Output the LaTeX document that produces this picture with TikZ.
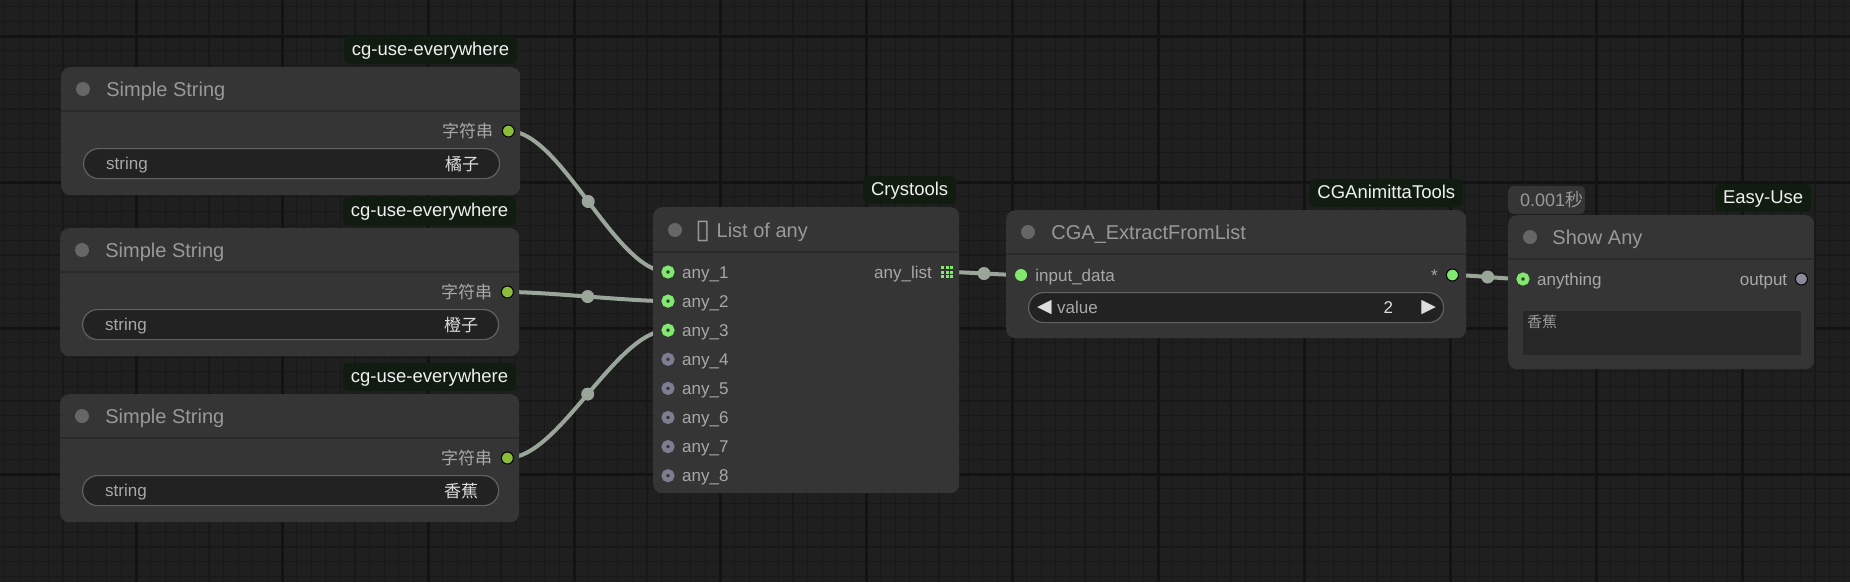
\documentclass[tikz,border=0pt]{standalone}
\usepackage{fontspec}
\setmainfont{Liberation Sans}
\newfontfamily\cjk{Noto Sans CJK SC}
\newfontfamily\dvsans{DejaVu Sans}
\usetikzlibrary{positioning}

\definecolor{canvasbg}{HTML}{1F1F1F}
\definecolor{minorc}{HTML}{181818}
\definecolor{majorc}{HTML}{131313}
\definecolor{nodebg}{HTML}{353535}
\definecolor{sepc}{HTML}{2A2A2A}
\definecolor{dotgrey}{HTML}{666666}
\definecolor{titlec}{HTML}{999999}
\definecolor{slotc}{HTML}{A8A8A8}
\definecolor{valuec}{HTML}{DDDDDD}
\definecolor{badgebg}{HTML}{111C11}
\definecolor{badgetext}{HTML}{F0F0F0}
\definecolor{widgetbg}{HTML}{222222}
\definecolor{widgetline}{HTML}{616161}
\definecolor{strgreen}{HTML}{8CBD3A}
\definecolor{anygreen}{HTML}{80E96E}
\definecolor{freegrey}{HTML}{7D7D91}
\definecolor{outgrey}{HTML}{8A8A9C}
\definecolor{linkc}{HTML}{9AA69A}
\definecolor{areabg}{HTML}{272727}

\pgfdeclarelayer{grid}
\pgfdeclarelayer{links}
\pgfsetlayers{grid,links,main}

\tikzstyle{minorline} = [line width=1.2pt, draw=minorc]
\tikzstyle{majorline} = [line width=3pt, draw=majorc]
\tikzstyle{nodebox} = [rectangle, rounded corners=9pt, fill=nodebg, inner sep=0pt, anchor=north west]
\tikzstyle{sepline} = [line width=1.5pt, draw=sepc]
\tikzstyle{titledot} = [circle, fill=dotgrey, minimum size=14pt, inner sep=0pt]
\tikzstyle{titletext} = [font=\fontsize{20}{24}\selectfont, text=titlec, inner sep=0pt, text height=14.3pt, text depth=0pt]
\tikzstyle{badge} = [rectangle, rounded corners=5pt, fill=badgebg, text=badgetext, font=\fontsize{18.5}{22}\selectfont, inner xsep=8pt, inner ysep=0pt, minimum height=28pt, text height=13.5pt, text depth=1.5pt]
\tikzstyle{slotlabel} = [font=\fontsize{17}{20}\selectfont, text=slotc, inner sep=0pt, text height=12.5pt, text depth=0.5pt]
\tikzstyle{slotcjk} = [font=\cjk\fontsize{17}{20}\selectfont, text=slotc, inner sep=0pt]
\tikzstyle{widget} = [rectangle, rounded corners=15pt, fill=widgetbg, draw=widgetline, line width=1.2pt, minimum height=30pt, inner sep=0pt, anchor=north west]
\tikzstyle{widgetlabel} = [font=\fontsize{17}{20}\selectfont, text=slotc, inner sep=0pt, text height=12pt, text depth=0pt]
\tikzstyle{widgetvalue} = [font=\cjk\fontsize{17}{20}\selectfont, text=valuec, inner sep=0pt]
\tikzstyle{arrowtxt} = [font=\dvsans\fontsize{19}{22}\selectfont, text=valuec, inner sep=0pt]
\tikzstyle{strdot} = [circle, fill=strgreen, draw=black, line width=1pt, minimum size=12pt, inner sep=0pt]
\tikzstyle{ringon} = [circle, fill=nodebg, draw=anygreen, line width=4.5pt, minimum size=8.5pt, inner sep=0pt]
\tikzstyle{ringoff} = [ringon, draw=freegrey]
\tikzstyle{soliddot} = [circle, fill=anygreen, minimum size=12pt, inner sep=0pt]
\tikzstyle{outdot} = [soliddot, draw=black, line width=1pt]
\tikzstyle{greydot} = [outdot, fill=outgrey]
\tikzstyle{link} = [line width=4pt, draw=linkc, line cap=round]
\tikzstyle{middot} = [circle, fill=linkc, minimum size=13pt, inner sep=0pt]

\begin{document}
\begin{tikzpicture}[x=1pt, y=-1pt]
\useasboundingbox (0,0) rectangle (1850,582);
\begin{pgfonlayer}{grid}
  \fill[canvasbg] (0,0) rectangle (1850,582);
  \foreach \i in {0,...,126} \draw[minorline] ({4.6+14.6*\i},0) -- ++(0,582);
  \foreach \j in {0,...,39} \draw[minorline] (0,{6.8+14.6*\j}) -- ++(1850,0);
  \foreach \i in {-1,...,12} \draw[majorline] ({136+146*\i},0) -- ++(0,582);
  \foreach \j in {0,...,3} \draw[majorline] (0,{36+146*\j}) -- ++(1850,0);
\end{pgfonlayer}

\foreach \nm/\x/\y/\val in {s1/61/67/橘子, s2/60/228/橙子, s3/60/394/香蕉} {
  \node (\nm) [nodebox, minimum width=459pt, minimum height=128pt] at (\x,\y) {};
  \draw[sepline] ([yshift=-44pt]\nm.north west) -- ([yshift=-44pt]\nm.north east);
  \node (\nm-dot) [titledot] at ([xshift=22pt,yshift=-22pt]\nm.north west) {};
  \node (\nm-title) [titletext, right=16pt of \nm-dot] {Simple String};
  \node (\nm-badge) [badge, anchor=south east] at ([xshift=-3pt,yshift=3pt]\nm.north east) {cg-use-everywhere};
  \node (\nm-out) [strdot] at ([xshift=-12pt,yshift=-64pt]\nm.north east) {};
  \node (\nm-label) [slotcjk, left=8.5pt of \nm-out] {字符串};
  \node (\nm-w) [widget, minimum width=416pt] at ([xshift=22pt,yshift=-81pt]\nm.north west) {};
  \node (\nm-wl) [widgetlabel, right=23pt of \nm-w.west] {string};
  \node (\nm-wv) [widgetvalue, left=21pt of \nm-w.east] {\val};
}

\node (lst) [nodebox, minimum width=306pt, minimum height=286pt] at (653,207) {};
\draw[sepline] ([yshift=-45pt]lst.north west) -- ([yshift=-45pt]lst.north east);
\node (lst-dot) [titledot] at ([xshift=22pt,yshift=-23pt]lst.north west) {};
\node (lst-icon) [titletext, font=\dvsans\fontsize{27}{30}\selectfont, text height=17pt, right=13pt of lst-dot] {▯};
\node (lst-title) [titletext, right=6pt of lst-icon] {List of any};
\node (lst-badge) [badge, anchor=south east] at ([xshift=-3pt,yshift=3pt]lst.north east) {Crystools};
\foreach \i/\st in {1/ringon,2/ringon,3/ringon,4/ringoff,5/ringoff,6/ringoff,7/ringoff,8/ringoff} {
  \node (l-in\i) [\st] at (668,{272+29.1*(\i-1)}) {};
  \node (l-lab\i) [slotlabel, right=7.5pt of l-in\i] {any\_\i};
}
\coordinate (l-out) at (947,272);
\foreach \a in {-1,0,1} \foreach \b in {-1,0,1}
  \fill[anygreen] ([xshift={\a*4.5-1.5}, yshift={\b*4.5-1.5}]l-out) rectangle +(3,-3);
\node (l-outlab) [slotlabel, left=15pt of l-out] {any\_list};

\node (ext) [nodebox, minimum width=460pt, minimum height=128pt] at (1006,210) {};
\draw[sepline] ([yshift=-44pt]ext.north west) -- ([yshift=-44pt]ext.north east);
\node (ext-dot) [titledot] at ([xshift=22pt,yshift=-22pt]ext.north west) {};
\node (ext-title) [titletext, right=16pt of ext-dot] {CGA\_ExtractFromList};
\node (ext-badge) [badge, anchor=south east] at ([xshift=-3pt,yshift=3pt]ext.north east) {CGAnimittaTools};
\node (e-in) [soliddot] at ([xshift=15pt,yshift=-65pt]ext.north west) {};
\node (e-inlab) [slotlabel, right=8pt of e-in] {input\_data};
\node (e-out) [outdot] at ([xshift=-14pt,yshift=-65pt]ext.north east) {};
\node (e-star) [slotlabel, left=8pt of e-out] {*};
\node (e-w) [widget, minimum width=415pt] at ([xshift=22pt,yshift=-82pt]ext.north west) {};
\node (e-dec) [arrowtxt, right=9pt of e-w.west] {◀};
\node (e-wl) [widgetlabel, right=29pt of e-w.west] {value};
\node (e-wv) [widgetlabel, text=valuec, left=51pt of e-w.east] {2};
\node (e-inc) [arrowtxt, left=8pt of e-w.east] {▶};

\node (show) [nodebox, minimum width=306pt, minimum height=154pt] at (1508,215) {};
\draw[sepline] ([yshift=-44pt]show.north west) -- ([yshift=-44pt]show.north east);
\node (show-dot) [titledot] at ([xshift=22pt,yshift=-22pt]show.north west) {};
\node (show-title) [titletext, right=15pt of show-dot] {Show Any};
\node (show-badge) [badge, anchor=south east] at ([xshift=-3pt,yshift=3pt]show.north east) {Easy-Use};
\node (t-box) [nodebox, rounded corners=5pt, minimum width=77pt, minimum height=28pt, anchor=south west] at ([yshift=1pt]show.north west) {};
\node (t-text) [widgetlabel, font=\fontsize{18}{22}\selectfont, text=titlec, text height=13pt, right=12pt of t-box.west] {0.001{\cjk 秒}};
\node (s-in) [ringon] at ([xshift=15pt,yshift=-64pt]show.north west) {};
\node (s-inlab) [slotlabel, right=7.5pt of s-in] {anything};
\node (s-out) [greydot] at ([xshift=-13pt,yshift=-64pt]show.north east) {};
\node (s-outlab) [slotlabel, left=7.5pt of s-out] {output};
\node (s-area) [rectangle, fill=areabg, minimum width=278pt, minimum height=44pt, inner sep=0pt, anchor=north west] at ([xshift=15pt,yshift=-96pt]show.north west) {};
\node (s-text) [font=\cjk\fontsize{15}{18}\selectfont, text=titlec, inner sep=0pt, anchor=north west] at ([xshift=4pt,yshift=-4pt]s-area.north west) {香蕉};

\begin{pgfonlayer}{links}
  \draw[link] (s1-out.center) .. controls +(53,0) and +(-53,0) .. node[middot] (m1) {} (l-in1.center);
  \draw[link] (s2-out.center) .. controls +(41,0) and +(-41,0) .. node[middot] (m2) {} (l-in2.center);
  \draw[link] (s3-out.center) .. controls +(52,0) and +(-52,0) .. node[middot] (m3) {} (l-in3.center);
  \draw[link] (l-out) .. controls +(18,0) and +(-18,0) .. node[middot] (m4) {} (e-in.center);
  \draw[link] (e-out.center) .. controls +(18,0) and +(-18,0) .. node[middot] (m5) {} (s-in.center);
\end{pgfonlayer}
\end{tikzpicture}
\end{document}
